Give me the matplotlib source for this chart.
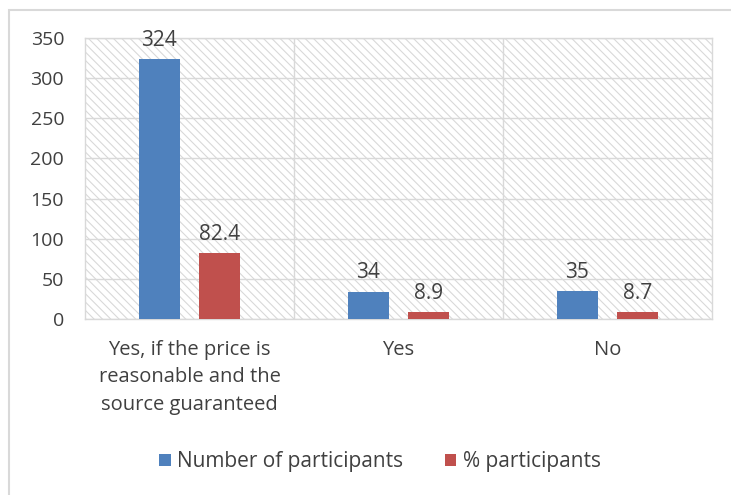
import matplotlib.pyplot as plt
import matplotlib.patches as mpatches
import numpy as np

categories = ['Yes, if the price is\nreasonable and the\nsource guaranteed', 'Yes', 'No']
participants = [324, 34, 35]
pct_participants = [82.4, 8.9, 8.7]
series_names = ['Number of participants', '% participants']

plt.rcParams['font.family'] = ['Open Sans', 'DejaVu Sans']
plt.rcParams['hatch.color'] = '#d9d9d9'
plt.rcParams['hatch.linewidth'] = 0.8

text_col = '#404040'
grid_col = '#d9d9d9'

fig = plt.figure(figsize=(7.31, 4.95), dpi=100)

# outer chart frame
frame = mpatches.Rectangle((9 / 731, -0.1), 1.2, 1 - 10 / 495 + 0.1,
                           transform=fig.transFigure, fill=False,
                           edgecolor='#d9d9d9', linewidth=1.5, zorder=0)
fig.patches.append(frame)

ax = fig.add_axes([85 / 731, 1 - 319 / 495, (712 - 85) / 731, (319 - 38) / 495])
ax.patch.set_facecolor('white')
ax.patch.set_hatch('\\\\\\\\')
ax.patch.set_edgecolor(grid_col)

x = np.arange(len(categories))
w = 0.196
off = 0.144
b1 = ax.bar(x - off, participants, w, color='#4f81bd', label=series_names[0], zorder=3)
b2 = ax.bar(x + off, pct_participants, w, color='#c0504d', label=series_names[1], zorder=3)

for bars, vals in ((b1, participants), (b2, pct_participants)):
    for r, v in zip(bars, vals):
        ax.annotate(f'{v:g}', (r.get_x() + r.get_width() / 2, v), xytext=(0, 6),
                    textcoords='offset points', ha='center', va='bottom',
                    fontsize=15, color=text_col)

ax.set_xlim(-0.5, 2.5)
ax.set_ylim(0, 350)
ax.set_yticks(range(0, 351, 50))
ax.set_xticks(x)
ax.set_xticklabels(categories, fontsize=14.5, color=text_col, linespacing=1.5)
ax.tick_params(axis='y', labelsize=14, labelcolor=text_col, length=0, pad=15)
ax.tick_params(axis='x', length=0, pad=15)

ax.grid(axis='y', color=grid_col, linewidth=1, zorder=1)
for xv in (0.5, 1.5):
    ax.axvline(xv, color=grid_col, linewidth=1, zorder=1)
for s in ax.spines.values():
    s.set_color(grid_col)
    s.set_linewidth(1)

ax.legend(loc='center', bbox_to_anchor=(380 / 731, 1 - 462 / 495), bbox_transform=fig.transFigure,
          ncol=2, frameon=False, fontsize=15, labelcolor=text_col,
          handlelength=0.55, handleheight=0.55, handletextpad=0.3, columnspacing=2.0)

fig.savefig('out.png', dpi=100)
